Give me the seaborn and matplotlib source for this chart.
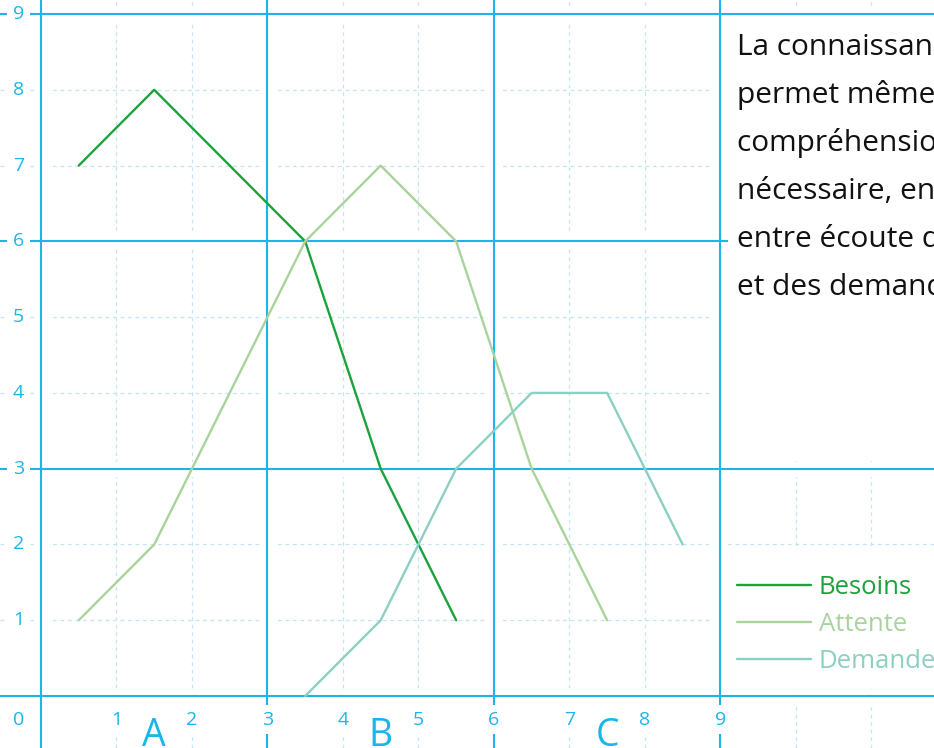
import matplotlib
matplotlib.use("Agg")
import matplotlib.pyplot as plt
from matplotlib.lines import Line2D
from matplotlib.patches import Rectangle
import seaborn as sns
import pandas as pd

# ---- data -------------------------------------------------------------
besoins_x = [0.5, 1.5, 3.5, 4.5, 5.5]
besoins_y = [7, 8, 6, 3, 1]
attente_x = [0.5, 1.5, 3.5, 4.5, 5.5, 6.5, 7.5]
attente_y = [1, 2, 6, 7, 6, 3, 1]
demande_x = [3.5, 4.5, 5.5, 6.5, 7.5, 8.5]
demande_y = [0, 1, 3, 4, 4, 2]

series_names = ["Besoins", "Attente", "Demande"]
series_colors = ["#1aa33c", "#a8d49c", "#8ccfc3"]

tick_values = list(range(1, 10))
zone_labels = ["A", "B", "C"]
zone_centers = [1.5, 4.5, 7.5]

paragraph = [
    "La connaissance des besoins",
    "permet même une meilleure",
    "compréhension des attentes,",
    "nécessaire, en amont, au dialogue",
    "entre écoute des attentes",
    "et des demandes.",
]

# ---- style ------------------------------------------------------------
sns.set_theme(style="white")
plt.rcParams["font.family"] = ["Open Sans", "DejaVu Sans"]

GRID = "#1bb6e9"
MINOR = "#c3e6f7"

W, H, DPI = 934, 748, 100
fig = plt.figure(figsize=(W / DPI, H / DPI), dpi=DPI)
ax = fig.add_axes([0, 0, 1, 1])
ax.set_xlim(-0.543, 11.83)
ax.set_ylim(-0.686, 9.185)
ax.axis("off")

# minor dotted grid
for v in range(1, 12):
    if v % 3:
        ax.axvline(v, color=MINOR, lw=0.9, ls=(0, (3, 3)), zorder=1)
for v in range(1, 9):
    if v % 3:
        ax.axhline(v, color=MINOR, lw=0.9, ls=(0, (3, 3)), zorder=1)

# white margins around the major grid, then the major grid itself
for v in (0, 3, 6, 9):
    ax.axvline(v, color="white", lw=11, zorder=2)
    ax.axhline(v, color="white", lw=11, zorder=2)
for v in (0, 3, 6, 9):
    ax.axvline(v, color=GRID, lw=1.5, zorder=3)
    ax.axhline(v, color=GRID, lw=1.5, zorder=3)

# blank panels for the paragraph and the legend
ax.add_patch(Rectangle((9.1, 3.1), 3.0, 5.8, facecolor="white", edgecolor="none", zorder=4))
ax.add_patch(Rectangle((9.1, 0.1), 3.0, 1.83, facecolor="white", edgecolor="none", zorder=4))

# ---- series -----------------------------------------------------------
frames = []
for name, xs, ys in zip(series_names,
                        [besoins_x, attente_x, demande_x],
                        [besoins_y, attente_y, demande_y]):
    frames.append(pd.DataFrame({"x": xs, "valeur": ys, "série": name}))
df = pd.concat(frames, ignore_index=True)

sns.lineplot(data=df, x="x", y="valeur", hue="série", hue_order=series_names,
             palette=series_colors, estimator=None, sort=False, lw=1.7,
             legend=False, ax=ax, zorder=5)

# ---- tick labels --------------------------------------------------------
box = dict(facecolor="white", edgecolor="none", pad=4)
for t in tick_values:
    ax.text(-0.30, t, str(t), color=GRID, fontsize=14, ha="center", va="center",
            bbox=box, zorder=6)
    ax.text(t, -0.31, str(t), color=GRID, fontsize=14, ha="center", va="center",
            bbox=box, zorder=6)
ax.text(-0.30, -0.31, "0", color=GRID, fontsize=14, ha="center", va="center",
        bbox=box, zorder=6)

for lab, xc in zip(zone_labels, zone_centers):
    ax.text(xc, -0.655, lab, color=GRID, fontsize=27, ha="center", va="baseline",
            zorder=6)

# ---- paragraph ----------------------------------------------------------
for i, line in enumerate(paragraph):
    fig.text(737 / W, 1 - (55 + 48 * i) / H, line, fontsize=21.5,
             color="#111111", ha="left", va="baseline", zorder=7)

# ---- legend -------------------------------------------------------------
handles = [Line2D([], [], color=c, lw=1.7) for c in series_colors]
leg = ax.legend(handles, series_names, loc="upper left",
                bbox_to_anchor=(737 / W, 1 - 575 / H), bbox_transform=fig.transFigure,
                frameon=False, fontsize=18.5, handlelength=2.88, handletextpad=0.3,
                labelspacing=0.47, borderpad=0, borderaxespad=0,
                labelcolor="linecolor")
leg.set_zorder(7)

fig.savefig("out.png", dpi=DPI)
